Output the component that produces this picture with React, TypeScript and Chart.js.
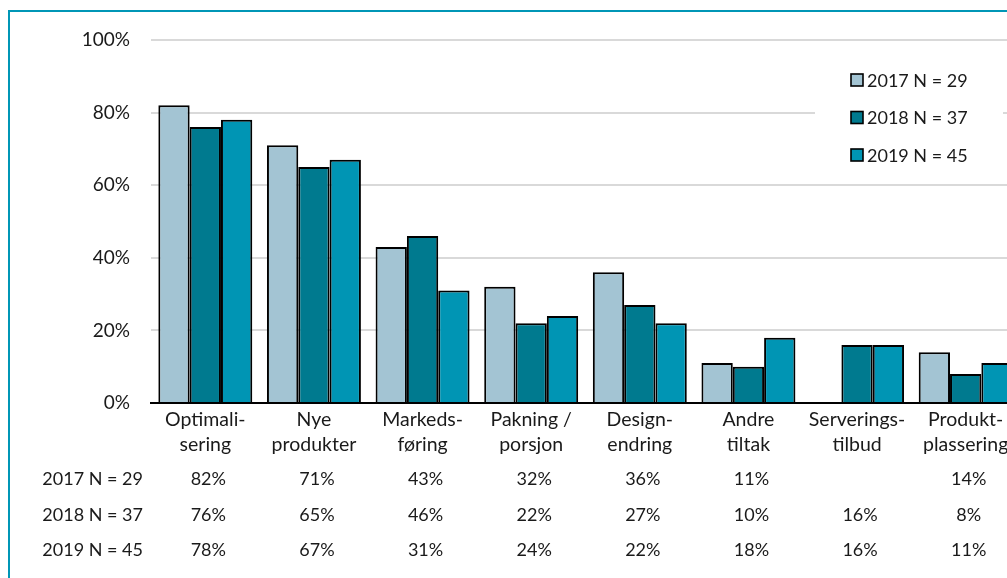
import React, { useEffect, useRef } from "react";
import { Chart, registerables } from "chart.js";

Chart.register(...registerables);

const categories: string[][] = [
  ["Optimali-", "sering"],
  ["Nye", "produkter"],
  ["Markeds-", "føring"],
  ["Pakning /", "porsjon"],
  ["Design-", "endring"],
  ["Andre", "tiltak"],
  ["Serverings-", "tilbud"],
  ["Produkt-", "plassering"],
];

const seriesLabels = ["2017 N = 29", "2018 N = 37", "2019 N = 45"];
const values2017: (number | null)[] = [82, 71, 43, 32, 36, 11, null, 14];
const values2018: (number | null)[] = [76, 65, 46, 22, 27, 10, 16, 8];
const values2019: (number | null)[] = [78, 67, 31, 24, 22, 18, 16, 11];
const seriesColors = ["#a3c4d3", "#007a8f", "#0095b4"];
const yTicks = [0, 20, 40, 60, 80, 100];

const FONT = "Lato, 'Liberation Sans', sans-serif";
const CANVAS_W = 1060;
const CANVAS_H = 580;

// Legend drawn in the upper right of the plot, on a white panel over the grid
const legendPlugin = {
  id: "boxLegend",
  afterDatasetsDraw(chart: any) {
    const { ctx } = chart;
    const x0 = 805;
    const y0 = 50;
    ctx.save();
    ctx.fillStyle = "#ffffff";
    ctx.fillRect(x0, y0, 188, 122);
    ctx.font = `18px ${FONT}`;
    ctx.textBaseline = "middle";
    chart.data.datasets.forEach((ds: any, i: number) => {
      const cy = y0 + 18 + i * 37.5;
      ctx.fillStyle = ds.backgroundColor;
      ctx.fillRect(x0 + 36, cy - 6, 12, 12);
      ctx.lineWidth = 1.6;
      ctx.strokeStyle = "#000";
      ctx.strokeRect(x0 + 36, cy - 6, 12, 12);
      ctx.fillStyle = "#1a1a1a";
      ctx.textAlign = "left";
      ctx.fillText(ds.label, x0 + 52, cy + 1);
    });
    ctx.restore();
  },
};

// Data table under the category labels
const tablePlugin = {
  id: "dataTable",
  afterDraw(chart: any) {
    const { ctx } = chart;
    const xScale = chart.scales.x;
    const rowY = [467, 503, 538];
    ctx.save();
    ctx.font = `18px ${FONT}`;
    ctx.fillStyle = "#1a1a1a";
    ctx.textBaseline = "middle";
    chart.data.datasets.forEach((ds: any, r: number) => {
      ctx.textAlign = "right";
      ctx.fillText(ds.label, 133, rowY[r]);
      ctx.textAlign = "center";
      ds.data.forEach((v: number | null, i: number) => {
        if (v === null || v === undefined) return;
        ctx.fillText(`${v}%`, xScale.getPixelForValue(i) + 3, rowY[r]);
      });
    });
    ctx.restore();
  },
};

export default function App() {
  const canvasRef = useRef<HTMLCanvasElement | null>(null);

  useEffect(() => {
    if (!canvasRef.current) return;
    const datasets = [values2017, values2018, values2019].map((data, i) => ({
      label: seriesLabels[i],
      data,
      backgroundColor: seriesColors[i],
      borderColor: "#000000",
      borderWidth: 2,
      borderSkipped: "bottom" as const,
      categoryPercentage: 0.865,
      barPercentage: 1.0,
    }));

    const chart = new Chart(canvasRef.current, {
      type: "bar",
      data: { labels: categories, datasets },
      options: {
        responsive: false,
        animation: false,
        layout: { padding: { top: 28, right: 50, bottom: 0, left: 0 } },
        plugins: {
          legend: { display: false },
          tooltip: { enabled: false },
        },
        scales: {
          x: {
            grid: { display: false, drawTicks: false },
            border: { display: true, color: "#000000", width: 2 },
            ticks: {
              color: "#1a1a1a",
              font: { family: FONT, size: 19.5, lineHeight: 1.28 },
              padding: 4,
              maxRotation: 0,
              autoSkip: false,
            },
            afterFit(scale: any) {
              scale.height = CANVAS_H - 391;
            },
          },
          y: {
            min: 0,
            max: 100,
            afterBuildTicks(scale: any) {
              scale.ticks = yTicks.map((v) => ({ value: v }));
            },
            grid: {
              color: (c: any) => (c.tick && c.tick.value === 0 ? "rgba(0,0,0,0)" : "#d9d9d9"),
              lineWidth: 2,
              drawTicks: true,
              tickLength: 21,
              tickColor: "rgba(0,0,0,0)",
            },
            border: { display: false },
            ticks: {
              color: "#1a1a1a",
              font: { family: FONT, size: 19 },
              padding: 0,
              callback: (v: any) => `${v}%`,
            },
            afterFit(scale: any) {
              scale.width = 141;
            },
          },
        },
      },
      plugins: [legendPlugin, tablePlugin],
    });
    return () => chart.destroy();
  }, []);

  return (
    <div
      style={{
        position: "absolute",
        left: 0,
        top: 0,
        width: 1007,
        height: 578,
        overflow: "hidden",
        background: "#ffffff",
      }}
    >
      <div
        style={{
          position: "absolute",
          left: 8,
          top: 10,
          width: CANVAS_W,
          height: CANVAS_H + 20,
          borderLeft: "2px solid #0096b6",
          borderTop: "2px solid #0096b6",
        }}
      >
        <canvas ref={canvasRef} width={CANVAS_W} height={CANVAS_H} style={{ display: "block" }} />
      </div>
    </div>
  );
}
